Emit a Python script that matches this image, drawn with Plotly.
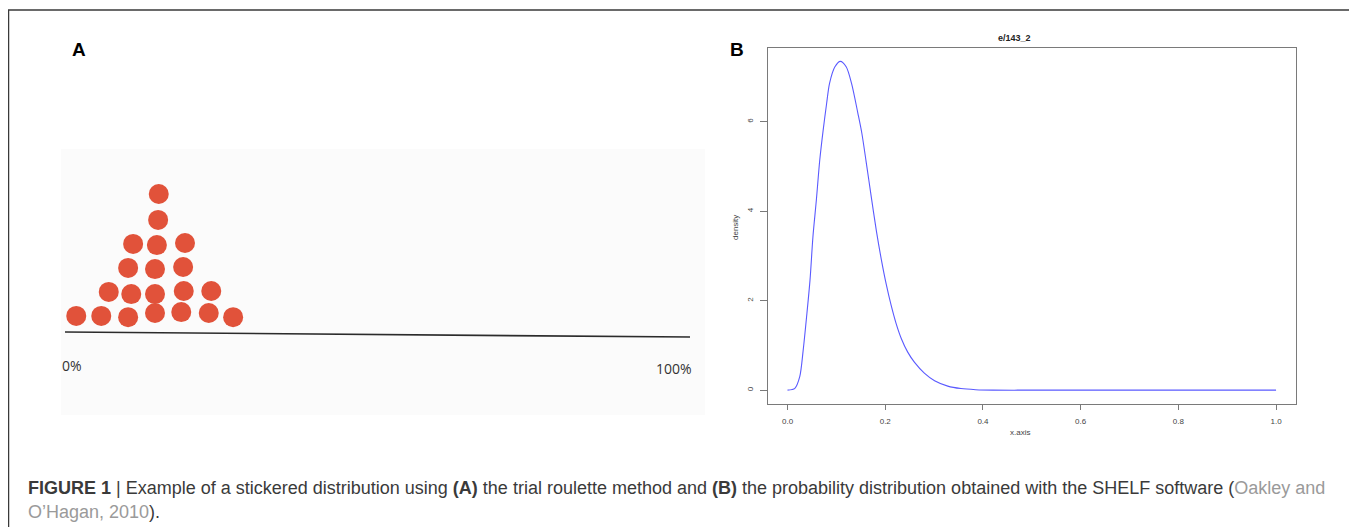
import plotly.graph_objects as go

# page body has an 8px margin, so the figure is drawn 8px in from the top-left
OFF = 8
W, H = 1357 - OFF, 527 - OFF

# ---------- Panel A data: sticker positions (percent along line, height in sticker units) ----------
sticker_pct = [1.8, 5.8, 10.1, 14.4, 18.6, 23.0, 26.9,
               7.0, 10.6, 14.4, 19.0, 23.4,
               10.1, 14.4, 18.9,
               10.9, 14.7, 19.2,
               14.9,
               15.0]
sticker_h = [0.67, 0.67, 0.62, 0.79, 0.83, 0.79, 0.62,
             1.67, 1.58, 1.58, 1.71, 1.71,
             2.67, 2.62, 2.71,
             3.67, 3.62, 3.71,
             4.67,
             5.75]
line_pct = [0, 100]
line_h = [0, -0.21]
end_labels = ["0%", "100%"]

# ---------- Panel B data: density curve ----------
x_axis = [0.0, 0.015, 0.025, 0.032, 0.039, 0.046, 0.052, 0.059, 0.066, 0.073,
          0.080, 0.086, 0.097, 0.108, 0.120, 0.131, 0.144, 0.152, 0.161, 0.171,
          0.182, 0.192, 0.202, 0.212, 0.222, 0.233, 0.246, 0.260, 0.280, 0.301,
          0.328, 0.355, 0.385, 0.42, 0.5, 0.6, 0.7, 0.8, 0.9, 1.0]
density = [0.0, 0.04, 0.30, 0.89, 1.64, 2.46, 3.43, 4.25, 5.15, 5.82,
           6.41, 6.86, 7.23, 7.35, 7.23, 6.86, 6.19, 5.75, 5.10, 4.35,
           3.55, 2.92, 2.37, 1.90, 1.50, 1.15, 0.85, 0.62, 0.38, 0.21,
           0.09, 0.035, 0.01, 0.0, 0.0, 0.0, 0.0, 0.0, 0.0, 0.0]
x_ticks = [0.0, 0.2, 0.4, 0.6, 0.8, 1.0]
x_tick_labels = ["0.0", "0.2", "0.4", "0.6", "0.8", "1.0"]
y_ticks = [0, 2, 4, 6]
y_tick_labels = ["0", "2", "4", "6"]


def px(x):
    return (x - OFF) / W


def py(y):
    return 1 - (y - OFF) / H


fig = go.Figure()

# Panel A
fig.add_trace(go.Scatter(x=line_pct, y=line_h, mode="lines", xaxis="x", yaxis="y",
                         line=dict(color="#2b2b2b", width=1.6), hoverinfo="skip"))
fig.add_trace(go.Scatter(x=sticker_pct, y=sticker_h, mode="markers", xaxis="x", yaxis="y",
                         marker=dict(size=20, color="#E1523A", line=dict(width=0))))

# Panel B
fig.add_trace(go.Scatter(x=x_axis, y=density, mode="lines", xaxis="x2", yaxis="y2",
                         line=dict(color="#5a5aff", width=1.1, shape="spline", smoothing=0.8)))

axis_font = dict(family="Liberation Sans, Arial, sans-serif", size=8, color="#444")

fig.update_layout(
    width=W, height=H,
    margin=dict(l=0, r=0, t=0, b=0),
    paper_bgcolor="white",
    plot_bgcolor="white",
    showlegend=False,
    xaxis=dict(domain=[px(61), px(705)], range=[-0.64, 102.4], visible=False, fixedrange=True),
    yaxis=dict(domain=[py(415), py(149)], range=[-3.458, 7.625], visible=False, fixedrange=True),
    xaxis2=dict(domain=[px(768), px(1295.6)], range=[-0.04, 1.04], anchor="y2",
                showline=True, mirror=True, linecolor="#7a7a7a", linewidth=1,
                ticks="outside", ticklen=5, tickcolor="#7a7a7a", tickwidth=1,
                tickvals=x_ticks, ticktext=x_tick_labels, tickfont=axis_font,
                ticklabelstandoff=4, showgrid=False, zeroline=False),
    yaxis2=dict(domain=[py(404), py(48)], range=[-0.31, 7.65], anchor="x2",
                showline=True, mirror=True, linecolor="#7a7a7a", linewidth=1,
                ticks="outside", ticklen=7, tickcolor="#7a7a7a", tickwidth=1,
                tickvals=y_ticks, ticktext=y_tick_labels, tickfont=axis_font,
                tickangle=-90, ticklabelstandoff=4, showgrid=False, zeroline=False),
)

# Panel A light background
fig.add_shape(type="rect", xref="paper", yref="paper", x0=px(61), x1=px(705), y0=py(415), y1=py(149),
              fillcolor="#fbfbfb", line=dict(width=0), layer="below")

# Outer frame
fig.add_shape(type="path", xref="paper", yref="paper",
              path=f"M {px(8.5)} {py(527)} L {px(8.5)} {py(10)} L {px(1350)} {py(10)} L {px(1350)} {py(527)}",
              line=dict(color="#3a3a3a", width=1.5))

ann = []
# end labels panel A
ann.append(dict(x=1.1, y=-1.375, xref="x", yref="y", text=end_labels[0], showarrow=False,
                font=dict(family="Open Sans, sans-serif", size=14, color="#333")))
ann.append(dict(x=97.4, y=-1.54, xref="x", yref="y", text=end_labels[1], showarrow=False,
                font=dict(family="Open Sans, sans-serif", size=14, color="#333")))
# panel letters
ann.append(dict(x=px(70), y=py(37), xref="paper", yref="paper", text="<b>A</b>", showarrow=False,
                font=dict(family="Liberation Sans, Arial, sans-serif", size=19, color="black")))
ann.append(dict(x=px(737), y=py(37), xref="paper", yref="paper", text="<b>B</b>", showarrow=False,
                font=dict(family="Liberation Sans, Arial, sans-serif", size=19, color="black")))
# panel B title and axis titles
ann.append(dict(x=px(1033), y=py(31), xref="paper", yref="paper", text="<b>e/143_2</b>", showarrow=False,
                font=dict(family="Liberation Sans, Arial, sans-serif", size=9, color="#222")))
ann.append(dict(x=px(1032), y=py(439), xref="paper", yref="paper", text="x.axis", showarrow=False,
                font=axis_font))
ann.append(dict(x=px(735), y=py(228), xref="paper", yref="paper", text="density", showarrow=False,
                textangle=-90, font=axis_font))
# caption
cap_font = dict(family="Liberation Sans, Arial, sans-serif", size=18, color="#3a3a3a")
ann.append(dict(x=px(26), y=py(488), xref="paper", yref="paper", xanchor="left", yanchor="middle",
                showarrow=False, font=cap_font,
                text="<b>FIGURE 1</b> | Example of a stickered distribution using <b>(A)</b> the trial roulette "
                     "method and <b>(B)</b> the probability distribution obtained with the SHELF software "
                     "(<span style='color:#9a9a9a'>Oakley and</span>"))
ann.append(dict(x=px(26), y=py(512), xref="paper", yref="paper", xanchor="left", yanchor="middle",
                showarrow=False, font=cap_font,
                text="<span style='color:#9a9a9a'>O\u2019Hagan, 2010</span>)."))
fig.update_layout(annotations=ann)

fig.write_html("out.html")
